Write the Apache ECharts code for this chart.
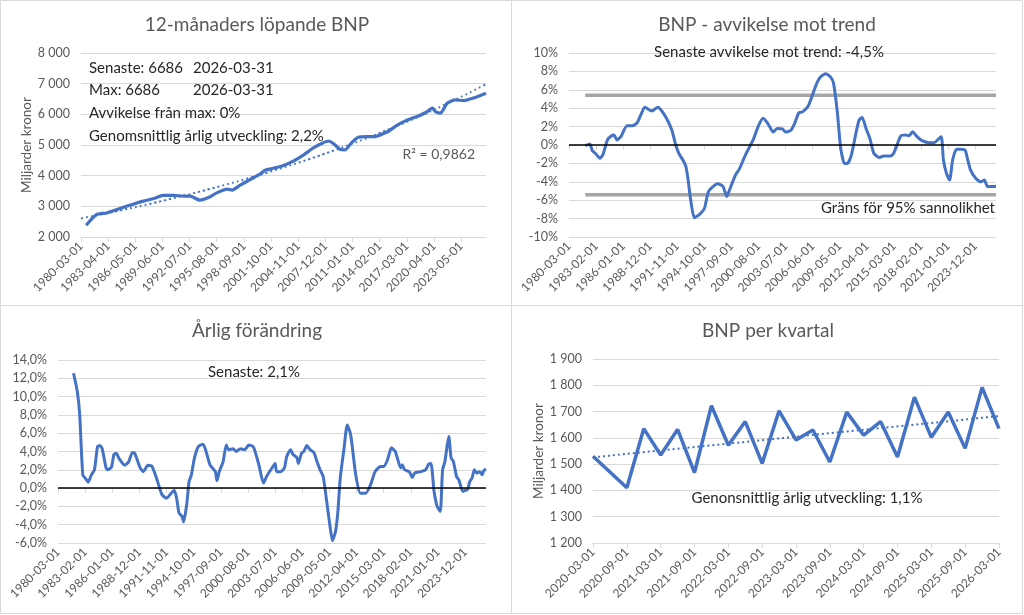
<!DOCTYPE html>
<html lang="sv">
<head>
<meta charset="UTF-8">
<title>BNP</title>
<style>
  html, body { margin: 0; padding: 0; background: #fff; }
  #main { width: 1024px; height: 615px; }
</style>
</head>
<body>
<div id="main"></div>
<script src="https://cdn.jsdelivr.net/npm/echarts@6/dist/echarts.min.js"></script>
<script>
// month index: 0 = 1980-03
var rollMonths = [7,21,35,53,71,85,99,112,126,140,149,162,176,185,199,206,217,231,244,251,262,276,290,303,317,328,337,344,353,360,369,378,390,401,413,420,431,445,458,470,479,483,490,499,510,522,535,552];
var rollValues = [2382,2730,2785,2930,3070,3170,3255,3360,3360,3330,3330,3200,3310,3440,3560,3530,3690,3880,4050,4180,4240,4330,4480,4670,4910,5050,5130,5050,4860,4840,5080,5250,5270,5270,5380,5460,5650,5820,5930,6060,6200,6090,6040,6360,6470,6450,6530,6686];

var devMonths = [21,27,30,34,40,44,50,55,58,62,67,75,82,88,93,98,107,115,119,126,133,138,142,147,151,154,157,162,168,175,180,185,192,199,204,207,215,220,228,238,245,251,258,264,269,276,280,287,292,297,302,309,315,320,325,332,338,342,347,351,356,360,365,371,375,379,384,389,394,401,407,416,420,429,435,440,444,449,455,460,465,472,481,484,488,492,496,501,506,512,515,519,526,532,537,541,552];
var devValues = [-0.07,0.1,-0.6,-0.9,-1.45,-1.0,0.6,1.0,1.1,0.55,0.9,2.1,2.1,2.4,3.3,4.1,3.7,4.1,3.8,2.9,1.6,0,-0.9,-1.6,-2.3,-3.8,-5.8,-7.9,-7.6,-6.9,-5.1,-4.6,-4.2,-4.5,-5.6,-5.0,-3.3,-2.65,-1.1,0.55,2.1,2.9,2.2,1.4,1.8,1.75,1.4,1.6,2.4,3.5,3.6,4.2,5.5,6.65,7.4,7.75,7.4,6.7,3.5,-0.2,-2.0,-2.0,-1.1,1.3,2.7,3.0,1.8,0.7,-0.9,-1.35,-1.2,-1.2,-0.85,1.0,1.1,1.0,1.45,1.0,0.55,0.35,0.25,0.25,0.9,-1.6,-3.1,-3.8,-1.6,-0.45,-0.45,-0.55,-1.45,-2.7,-3.65,-4.0,-3.8,-4.5,-4.5];
var devBound = 5.4;

var chgMonths = [20,25,28,32,36,39,43,47,51,54,57,62,64,69,72,75,79,86,91,96,99,106,110,116,121,127,134,140,147,150,153,156,160,162,166,169,172,176,181,187,191,196,203,205,208,213,217,220,226,230,235,241,246,252,259,265,269,276,280,282,287,292,295,300,303,308,310,314,317,321,325,330,334,338,342,346,350,354,358,361,364,369,373,377,379,384,390,397,403,409,416,420,425,430,435,442,444,447,453,457,460,468,474,478,481,485,489,493,496,499,502,504,507,510,514,517,522,526,528,531,534,537,540,544,547,549,552];
var chgValues = [12.55,10.5,8.0,1.45,1.0,0.65,1.45,2.0,4.55,4.65,4.3,2.2,2.0,2.3,3.65,3.8,3.2,2.5,2.85,3.9,3.8,2.2,1.8,2.5,2.4,1.1,-0.7,-1.1,-0.45,-0.25,-1.1,-2.7,-3.1,-3.7,-1.8,0.7,1.45,3.3,4.55,4.8,4.0,2.55,1.8,0.8,1.8,2.9,4.7,4.2,4.3,4.0,4.3,4.2,4.7,4.5,2.55,0.55,1.27,2.2,2.7,1.8,1.8,2.2,3.45,4.2,3.7,3.35,2.7,3.8,4.0,4.65,4.2,3.9,2.9,2.0,1.27,-1.1,-3.65,-5.75,-4.7,-2.55,1.1,4.4,6.9,6.0,4.9,1.45,-0.55,-0.55,0.35,1.8,2.35,2.35,3.1,4.4,4.0,2.2,2.55,2.0,1.8,1.15,1.65,1.8,2.0,2.6,2.7,-0.35,-2.0,-2.55,2.0,2.9,4.7,5.65,3.3,2.9,1.27,0.9,-0.35,-0.2,-0.2,0.7,1.1,2.0,1.65,1.8,1.45,1.9,2.1];

var quarters = ['2020-03-01','2020-06-01','2020-09-01','2020-12-01','2021-03-01','2021-06-01','2021-09-01','2021-12-01','2022-03-01','2022-06-01','2022-09-01','2022-12-01','2023-03-01','2023-06-01','2023-09-01','2023-12-01','2024-03-01','2024-06-01','2024-09-01','2024-12-01','2025-03-01','2025-06-01','2025-09-01','2025-12-01','2026-03-01'];
var quarterValues = [1530,1470,1410,1635,1535,1632,1468,1722,1572,1662,1503,1703,1592,1630,1508,1698,1610,1662,1527,1755,1602,1698,1560,1792,1635];

var lastMonth = 552;
var FONT = 'Lato';
var BLUE = '#4472C4';
var GREY = '#595959';
var LINE = '#d9d9d9';

function monthLabel(m) {
    var t = 2 + m;
    var y = 1980 + Math.floor(t / 12);
    var mo = t % 12 + 1;
    return y + '-' + (mo < 10 ? '0' : '') + mo + '-01';
}
function steps(step) {
    var out = [];
    for (var v = 0; v <= lastMonth; v += step) out.push(v);
    return out;
}
function pairs(xs, ys) {
    return xs.map(function (x, i) { return [x, ys[i]]; });
}
function linearFit(xs, ys) {
    var n = xs.length, sx = 0, sy = 0, sxx = 0, sxy = 0;
    for (var i = 0; i < n; i++) {
        sx += xs[i]; sy += ys[i]; sxx += xs[i] * xs[i]; sxy += xs[i] * ys[i];
    }
    var b = (n * sxy - sx * sy) / (n * sxx - sx * sx);
    return { a: (sy - b * sx) / n, b: b };
}
function thousands(v) {
    return String(v).replace(/\B(?=(\d{3})+(?!\d))/g, ' ');
}

function monthAxis(grid, step) {
    var ticks = steps(step);
    return {
        type: 'value', gridIndex: grid, min: 0, max: lastMonth,
        splitLine: { show: false },
        axisLine: { show: true, lineStyle: { color: LINE, width: 1 } },
        axisTick: { show: true, length: 5, lineStyle: { color: LINE }, customValues: ticks },
        axisLabel: {
            rotate: 45, margin: 7, color: GREY, fontSize: 12, fontFamily: FONT,
            customValues: ticks, formatter: function (v) { return monthLabel(v); }
        }
    };
}
function valueAxis(grid, min, max, interval, fmt) {
    return {
        type: 'value', gridIndex: grid, min: min, max: max, interval: interval,
        axisLine: { show: false }, axisTick: { show: false },
        splitLine: { lineStyle: { color: LINE, width: 1 } },
        axisLabel: { color: GREY, fontSize: 12.5, fontFamily: FONT, margin: 11, formatter: fmt }
    };
}

// exponential trend (fit on log values), as in the spreadsheet
var rollFit = linearFit(rollMonths, rollValues.map(Math.log));
var rollTrend = steps(6).concat([lastMonth]).map(function (m) {
    return [m, Math.exp(rollFit.a + rollFit.b * m)];
});
var qIdx = quarterValues.map(function (v, i) { return i; });
var qFit = linearFit(qIdx, quarterValues);

var zeroLine = {
    silent: true, symbol: 'none', label: { show: false },
    lineStyle: { color: '#000', width: 1.5, type: 'solid' },
    data: [{ yAxis: 0 }]
};

function txt(x, y, text, opt) {
    opt = opt || {};
    return {
        type: 'text', x: x, y: y, silent: true, z: 10,
        style: {
            text: text, fill: opt.fill || '#262626', fontFamily: FONT,
            fontSize: opt.size || 15, textAlign: opt.align || 'left', textVerticalAlign: 'middle'
        }
    };
}

var myChart = echarts.init(document.getElementById('main'));
var option = {
    animation: false,
    backgroundColor: '#fff',
    grid: [
        { left: 81, top: 53, width: 405, height: 184 },
        { left: 569, top: 53, width: 427, height: 184 },
        { left: 58, top: 360, width: 428, height: 183 },
        { left: 593, top: 359, width: 406, height: 184 }
    ],
    xAxis: [
        monthAxis(0, 37),
        monthAxis(1, 35),
        monthAxis(2, 35),
        {
            type: 'category', gridIndex: 3, data: quarters, boundaryGap: false,
            axisLine: { lineStyle: { color: LINE } },
            axisTick: { length: 5, interval: 1, lineStyle: { color: LINE } },
            axisLabel: { rotate: 45, margin: 7, interval: 1, color: GREY, fontSize: 12, fontFamily: FONT }
        }
    ],
    yAxis: [
        Object.assign(valueAxis(0, 2000, 8000, 1000, thousands), {
            name: 'Miljarder kronor', nameLocation: 'middle', nameGap: 46, nameRotate: 90,
            nameTextStyle: { color: GREY, fontSize: 13.5, fontFamily: FONT }
        }),
        valueAxis(1, -10, 10, 2, function (v) { return v + '%'; }),
        valueAxis(2, -6, 14, 2, function (v) { return v.toFixed(1).replace('.', ',') + '%'; }),
        Object.assign(valueAxis(3, 1200, 1900, 100, thousands), {
            name: 'Miljarder kronor', nameLocation: 'middle', nameGap: 46, nameRotate: 90,
            nameTextStyle: { color: GREY, fontSize: 13.5, fontFamily: FONT }
        })
    ],
    series: [
        {
            type: 'line', xAxisIndex: 0, yAxisIndex: 0, showSymbol: false, smooth: 0.2,
            lineStyle: { color: BLUE, width: 3.2 }, data: pairs(rollMonths, rollValues), z: 3
        },
        {
            type: 'line', xAxisIndex: 0, yAxisIndex: 0, showSymbol: false, smooth: true,
            lineStyle: { color: BLUE, width: 2, type: [2, 3] }, z: 4,
            data: rollTrend
        },
        {
            type: 'line', xAxisIndex: 1, yAxisIndex: 1, showSymbol: false,
            lineStyle: { color: '#a6a6a6', width: 3.5 }, z: 2,
            data: [[devMonths[0], devBound], [lastMonth, devBound]]
        },
        {
            type: 'line', xAxisIndex: 1, yAxisIndex: 1, showSymbol: false,
            lineStyle: { color: '#a6a6a6', width: 3.5 }, z: 2,
            data: [[devMonths[0], -devBound], [lastMonth, -devBound]]
        },
        {
            type: 'line', xAxisIndex: 1, yAxisIndex: 1, showSymbol: false, smooth: 0.2,
            lineStyle: { color: BLUE, width: 3 }, data: pairs(devMonths, devValues), z: 3,
            markLine: zeroLine
        },
        {
            type: 'line', xAxisIndex: 2, yAxisIndex: 2, showSymbol: false, smooth: 0.2,
            lineStyle: { color: BLUE, width: 3 }, data: pairs(chgMonths, chgValues), z: 3,
            markLine: zeroLine
        },
        {
            type: 'line', xAxisIndex: 3, yAxisIndex: 3, showSymbol: false,
            lineStyle: { color: BLUE, width: 3.5 }, data: quarterValues, z: 3
        },
        {
            type: 'line', xAxisIndex: 3, yAxisIndex: 3, showSymbol: false,
            lineStyle: { color: BLUE, width: 2, type: [2, 3] }, z: 4,
            data: qIdx.map(function (i) {
                return (i === 0 || i === qIdx.length - 1) ? qFit.a + qFit.b * i : null;
            }),
            connectNulls: true
        }
    ],
    graphic: [
        { type: 'rect', shape: { x: 0.5, y: 0.5, width: 1022, height: 613 }, style: { fill: null, stroke: LINE, lineWidth: 1 }, silent: true },
        { type: 'line', shape: { x1: 511.5, y1: 0.5, x2: 511.5, y2: 613.5 }, style: { stroke: LINE, lineWidth: 1 }, silent: true },
        { type: 'line', shape: { x1: 0.5, y1: 305.5, x2: 1022.5, y2: 305.5 }, style: { stroke: LINE, lineWidth: 1 }, silent: true },

        txt(257, 25, '12-månaders löpande BNP', { align: 'center', size: 19, fill: GREY }),
        txt(767, 25, 'BNP - avvikelse mot trend', { align: 'center', size: 19, fill: GREY }),
        txt(257, 331, 'Årlig förändring', { align: 'center', size: 19, fill: GREY }),
        txt(768, 331, 'BNP per kvartal', { align: 'center', size: 19, fill: GREY }),

        txt(89, 68, 'Senaste: 6686'),
        txt(193, 68, '2026-03-31'),
        txt(89, 90, 'Max: 6686'),
        txt(193, 90, '2026-03-31'),
        txt(89, 113, 'Avvikelse från max: 0%'),
        txt(89, 136, 'Genomsnittlig årlig utveckling: 2,2%'),
        txt(475, 154, 'R² = 0,9862', { align: 'right', fill: GREY, size: 14 }),

        txt(769, 52, 'Senaste avvikelse mot trend: -4,5%', { align: 'center' }),
        txt(995, 208, 'Gräns för 95% sannolikhet', { align: 'right' }),

        txt(254, 372, 'Senaste: 2,1%', { align: 'center' }),
        txt(807, 498, 'Genonsnittlig årlig utveckling: 1,1%', { align: 'center' })
    ]
};
myChart.setOption(option);
</script>
</body>
</html>
